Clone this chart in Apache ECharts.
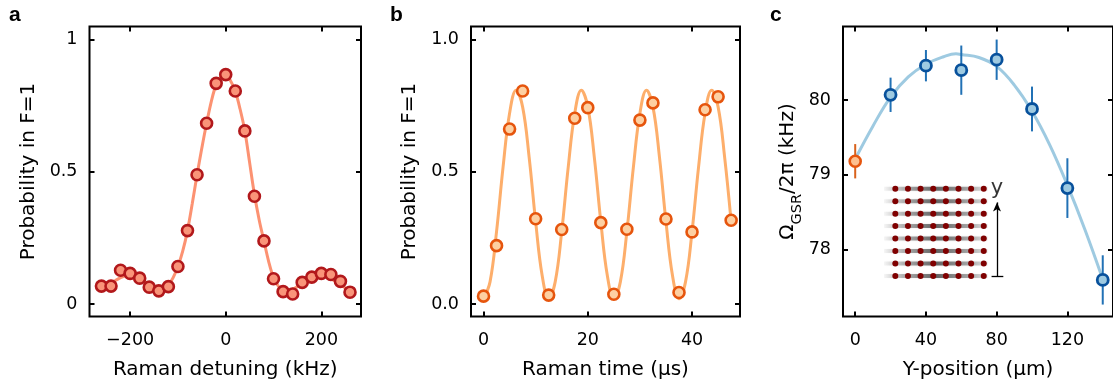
<!DOCTYPE html>
<html>
<head>
<meta charset="utf-8">
<script src="https://cdn.jsdelivr.net/npm/echarts@6/dist/echarts.min.js"></script>
<style>
html,body{margin:0;padding:0;background:#fff;}
#chart{width:1113px;height:387px;}
</style>
</head>
<body>
<div id="chart"></div>
<script>
// ---------- Panel a: Raman spectroscopy ----------
const aX = [-260,-240,-220,-200,-180,-160,-140,-120,-100,-80,-60,-40,-20,0,20,40,60,80,100,120,140,160,180,200,220,240,260];
const aY = [0.068,0.068,0.128,0.116,0.098,0.064,0.050,0.066,0.142,0.278,0.489,0.684,0.835,0.868,0.806,0.655,0.408,0.239,0.096,0.047,0.038,0.082,0.102,0.116,0.112,0.086,0.045];
const aFitX = [-260,-250,-240,-230,-220,-210,-200,-190,-180,-170,-160,-150,-140,-130,-120,-110,-100,-90,-80,-70,-60,-50,-40,-30,-20,-10,0,10,20,30,40,50,60,70,80,90,100,110,120,130,140,150,160,170,180,190,200,210,220,230,240,250,260];
const aFitY = [0.068,0.072,0.080,0.090,0.100,0.107,0.109,0.105,0.096,0.084,0.071,0.060,0.055,0.058,0.072,0.100,0.142,0.200,0.278,0.380,0.489,0.590,0.684,0.768,0.830,0.860,0.866,0.845,0.805,0.738,0.655,0.535,0.415,0.318,0.238,0.160,0.100,0.068,0.055,0.052,0.056,0.066,0.079,0.092,0.102,0.108,0.108,0.104,0.096,0.085,0.073,0.061,0.050];
const aXTicks = [-200, 0, 200];
const aXTickLabels = ['\u2212200', '0', '200'];
const aYTicks = [0, 0.5, 1];
const aYTickLabels = ['0', '0.5', '1'];

// ---------- Panel b: Rabi oscillation ----------
const bX = [0,2.5,5,7.5,10,12.5,15,17.5,20,22.5,25,27.5,30,32.5,35,37.5,40,42.5,45,47.5];
const bY = [0.030,0.221,0.662,0.806,0.323,0.034,0.282,0.703,0.743,0.308,0.037,0.283,0.696,0.761,0.322,0.044,0.273,0.735,0.784,0.317];
const bFitX = [0,1.25,2.5,3.75,5,6.25,7.5,8.75,10,11.25,12.5,13.75,15,16.25,17.5,18.75,20,21.25,22.5,23.75,25,26.25,27.5,28.75,30,31.25,32.5,33.75,35,36.25,37.5,38.75,40,41.25,42.5,43.75,45,46.25,47.5];
const bFitY = [0.020,0.084,0.274,0.518,0.722,0.809,0.746,0.556,0.312,0.108,0.020,0.084,0.274,0.518,0.722,0.809,0.746,0.556,0.312,0.108,0.020,0.084,0.274,0.518,0.722,0.809,0.746,0.556,0.312,0.108,0.020,0.084,0.274,0.518,0.722,0.809,0.746,0.556,0.312];
const bXTicks = [0, 20, 40];
const bXTickLabels = ['0', '20', '40'];
const bYTicks = [0, 0.5, 1];
const bYTickLabels = ['0.0', '0.5', '1.0'];

// ---------- Panel c: Rabi frequency vs position ----------
const cRefX = [0];
const cRefY = [79.18];
const cRefErr = [0.23];
const cX = [20,40,60,80,100,120,140];
const cY = [80.07,80.46,80.40,80.54,79.88,78.82,77.59];
const cErr = [0.23,0.21,0.33,0.27,0.30,0.40,0.33];
const cFitX = [0,10,20,30,40,50,57,60,70,80,90,100,110,120,130,140];
const cFitY = [79.21,79.65,80.04,80.31,80.48,80.58,80.62,80.61,80.57,80.45,80.20,79.85,79.40,78.86,78.26,77.60];
const cXTicks = [0, 40, 80, 120];
const cXTickLabels = ['0', '40', '80', '120'];
const cYTicks = [78, 79, 80];
const cYTickLabels = ['78', '79', '80'];

// ---------- Inset: atom array schematic ----------
const insetCols = [0,1,2,3,4,5,6,7];
const insetRows = [0,1,2,3,4,5,6,7];
const insetArrowX = 8.05;
const insetArrowFrom = 0;
const insetArrowTo = 5.9;
const insetBarFrom = 7.62;
const insetBarTo = 8.55;
const insetLabelPos = [8.05, 7.05];

const FONT = 'DejaVu Sans';
const TICKFS = 17.5;
const NAMEFS = 20;

function mkLabel(ticks, labels) {
  return function (v) {
    for (let i = 0; i < ticks.length; i++) if (Math.abs(ticks[i] - v) < 1e-9) return labels[i];
    return '';
  };
}

const tickStyle = { color: '#000', width: 2 };

function mainX(gi, min, max, ticks, labels, name, nameGap) {
  return {
    type: 'value', gridIndex: gi, min: min, max: max, position: 'bottom',
    name: name, nameLocation: 'middle', nameGap: nameGap,
    nameTextStyle: { fontFamily: FONT, fontSize: NAMEFS, color: '#000' },
    axisLine: { show: false, onZero: false },
    axisTick: { show: true, inside: true, length: 5, customValues: ticks, lineStyle: tickStyle },
    axisLabel: { show: true, customValues: ticks, formatter: mkLabel(ticks, labels), margin: 15, fontFamily: FONT, fontSize: TICKFS, color: '#000' },
    splitLine: { show: false }
  };
}
function mirrorX(gi, min, max, ticks) {
  return {
    type: 'value', gridIndex: gi, min: min, max: max, position: 'top',
    axisLine: { show: false, onZero: false },
    axisTick: { show: true, inside: true, length: 5, customValues: ticks, lineStyle: tickStyle },
    axisLabel: { show: false }, splitLine: { show: false }
  };
}
function mainY(gi, min, max, ticks, labels, name, nameGap, rich) {
  const o = {
    type: 'value', gridIndex: gi, min: min, max: max, position: 'left',
    name: name, nameLocation: 'middle', nameGap: nameGap, nameRotate: 90,
    nameTextStyle: { fontFamily: FONT, fontSize: NAMEFS, color: '#000' },
    axisLine: { show: false, onZero: false },
    axisTick: { show: true, inside: true, length: 5, customValues: ticks, lineStyle: tickStyle },
    axisLabel: { show: true, customValues: ticks, formatter: mkLabel(ticks, labels), margin: 12, fontFamily: FONT, fontSize: TICKFS, color: '#000' },
    splitLine: { show: false }
  };
  if (rich) o.nameTextStyle.rich = rich;
  return o;
}
function mirrorY(gi, min, max, ticks) {
  return {
    type: 'value', gridIndex: gi, min: min, max: max, position: 'right',
    axisLine: { show: false, onZero: false },
    axisTick: { show: true, inside: true, length: 5, customValues: ticks, lineStyle: tickStyle },
    axisLabel: { show: false }, splitLine: { show: false }
  };
}

const gridStyle = { show: true, borderColor: '#000', borderWidth: 2, backgroundColor: 'transparent' };

const A_X = [-285, 283], A_Y = [-0.047, 1.050];
const B_X = [-2.4, 49.2], B_Y = [-0.047, 1.050];
const C_X = [-6.9, 145.8], C_Y = [77.10, 80.985];

function pairs(xs, ys) { return xs.map((x, i) => [x, ys[i]]); }
function errData(xs, ys, es) { return xs.map((x, i) => [x, ys[i], es[i]]); }

function errSeries(xi, yi, data, color) {
  return {
    type: 'custom', xAxisIndex: xi, yAxisIndex: yi, z: 3, silent: true,
    renderItem: function (params, api) {
      const x = api.value(0), y = api.value(1), e = api.value(2);
      const p1 = api.coord([x, y - e]);
      const p2 = api.coord([x, y + e]);
      return { type: 'line', shape: { x1: p1[0], y1: p1[1], x2: p2[0], y2: p2[1] }, style: { stroke: color, lineWidth: 2 } };
    },
    data: data
  };
}

const insetDots = [];
insetRows.forEach(r => insetCols.forEach(c => insetDots.push([c, r])));
const insetLineSeries = insetRows.map(r => ({
  type: 'line', xAxisIndex: 6, yAxisIndex: 6, z: 1, silent: true, symbol: 'none',
  data: [[insetCols[0] - 0.9, r], [insetCols[insetCols.length - 1] + 0.3, r]],
  lineStyle: {
    width: 4,
    color: new echarts.graphic.LinearGradient(0, 0, 1, 0, [
      { offset: 0, color: 'rgba(0,0,0,0)' },
      { offset: 0.2, color: 'rgba(0,0,0,0.25)' },
      { offset: 0.5, color: 'rgba(0,0,0,0.55)' },
      { offset: 0.8, color: 'rgba(0,0,0,0.3)' },
      { offset: 1, color: 'rgba(0,0,0,0.05)' }
    ]),
    shadowBlur: 2, shadowColor: 'rgba(0,0,0,0.3)'
  }
}));

const titleStyle = { fontFamily: 'Liberation Sans', fontWeight: 'bold', fontSize: 21, color: '#000' };

const chart = echarts.init(document.getElementById('chart'), null, { renderer: 'canvas' });
chart.setOption({
  animation: false,
  backgroundColor: '#fff',
  title: [
    { text: 'a', left: 9, top: 5, padding: 0, textStyle: titleStyle },
    { text: 'b', left: 390, top: 5, padding: 0, textStyle: titleStyle },
    { text: 'c', left: 770, top: 5, padding: 0, textStyle: titleStyle }
  ],
  grid: [
    Object.assign({ left: 89.5, top: 26.5, width: 271.5, height: 290 }, gridStyle),
    Object.assign({ left: 471, top: 26.5, width: 269, height: 290 }, gridStyle),
    Object.assign({ left: 843, top: 26.5, width: 271.5, height: 290 }, gridStyle),
    { show: false, left: 882.7, top: 176.2, width: 126.3, height: 112.3 }
  ],
  xAxis: [
    mainX(0, A_X[0], A_X[1], aXTicks, aXTickLabels, 'Raman detuning (kHz)', 43),
    mirrorX(0, A_X[0], A_X[1], aXTicks),
    mainX(1, B_X[0], B_X[1], bXTicks, bXTickLabels, 'Raman time (\u03bcs)', 43),
    mirrorX(1, B_X[0], B_X[1], bXTicks),
    mainX(2, C_X[0], C_X[1], cXTicks, cXTickLabels, 'Y-position (\u03bcm)', 43),
    mirrorX(2, C_X[0], C_X[1], cXTicks),
    { type: 'value', gridIndex: 3, min: -1, max: 9, show: false }
  ],
  yAxis: [
    mainY(0, A_Y[0], A_Y[1], aYTicks, aYTickLabels, 'Probability in F=1', 51),
    mirrorY(0, A_Y[0], A_Y[1], aYTicks),
    mainY(1, B_Y[0], B_Y[1], bYTicks, bYTickLabels, 'Probability in F=1', 51),
    mirrorY(1, B_Y[0], B_Y[1], bYTicks),
    mainY(2, C_Y[0], C_Y[1], cYTicks, cYTickLabels, '{m|\u03a9}{s|GSR}{m|/2\u03c0 (kHz)}', 38, {
      m: { fontFamily: FONT, fontSize: NAMEFS, color: '#000', lineHeight: 27, verticalAlign: 'top' },
      s: { fontFamily: FONT, fontSize: 14.5, color: '#000', lineHeight: 27, verticalAlign: 'bottom' }
    }),
    mirrorY(2, C_Y[0], C_Y[1], cYTicks),
    { type: 'value', gridIndex: 3, min: -1, max: 8, show: false }
  ],
  series: [
    // panel a
    { type: 'line', xAxisIndex: 0, yAxisIndex: 0, z: 2, silent: true, symbol: 'none', smooth: 0.35,
      data: pairs(aFitX, aFitY), lineStyle: { color: '#fc9272', width: 3 } },
    { type: 'scatter', xAxisIndex: 0, yAxisIndex: 0, z: 4, silent: true, symbol: 'circle', symbolSize: 11,
      data: pairs(aX, aY), itemStyle: { color: '#f99479', borderColor: '#b2181b', borderWidth: 2.6, opacity: 1 } },
    // panel b
    { type: 'line', xAxisIndex: 2, yAxisIndex: 2, z: 2, silent: true, symbol: 'none', smooth: 0.4,
      data: pairs(bFitX, bFitY), lineStyle: { color: '#fdae6b', width: 3 } },
    { type: 'scatter', xAxisIndex: 2, yAxisIndex: 2, z: 4, silent: true, symbol: 'circle', symbolSize: 11,
      data: pairs(bX, bY), itemStyle: { color: '#fdd0a2', borderColor: '#e6550d', borderWidth: 2.6, opacity: 1 } },
    // panel c
    { type: 'line', xAxisIndex: 4, yAxisIndex: 4, z: 2, silent: true, symbol: 'none', smooth: 0.4,
      data: pairs(cFitX, cFitY), lineStyle: { color: '#9ecae1', width: 3 } },
    errSeries(4, 4, errData(cX, cY, cErr), '#2171b5'),
    errSeries(4, 4, errData(cRefX, cRefY, cRefErr), '#d9621c'),
    { type: 'scatter', xAxisIndex: 4, yAxisIndex: 4, z: 4, silent: true, symbol: 'circle', symbolSize: 11,
      data: pairs(cX, cY), itemStyle: { color: '#9ecae1', borderColor: '#08519c', borderWidth: 2.8, opacity: 1 } },
    { type: 'scatter', xAxisIndex: 4, yAxisIndex: 4, z: 4, silent: true, symbol: 'circle', symbolSize: 11,
      data: pairs(cRefX, cRefY), itemStyle: { color: '#fdc08f', borderColor: '#e6550d', borderWidth: 2.6, opacity: 1 } },
    // inset
    ...insetLineSeries,
    { type: 'scatter', xAxisIndex: 6, yAxisIndex: 6, z: 5, silent: true, symbol: 'circle', symbolSize: 6,
      data: insetDots, itemStyle: { color: '#7f0000', opacity: 1 },
      markLine: {
        silent: true, animation: false,
        symbol: ['none', 'none'],
        lineStyle: { color: '#000', width: 1.3, type: 'solid' },
        label: { show: false },
        emphasis: { disabled: true },
        data: [
          [{ coord: [insetArrowX, insetArrowFrom], symbol: 'none' }, { coord: [insetArrowX, insetArrowTo], symbol: 'arrow', symbolSize: [6, 9] }],
          [{ coord: [insetBarFrom, insetArrowFrom], symbol: 'none' }, { coord: [insetBarTo, insetArrowFrom], symbol: 'none' }]
        ]
      }
    },
    { type: 'scatter', xAxisIndex: 6, yAxisIndex: 6, z: 5, silent: true, symbolSize: 0,
      data: [insetLabelPos],
      label: { show: true, position: 'inside', formatter: 'y', fontFamily: FONT, fontSize: 21, color: '#000' } }
  ]
});
</script>
</body>
</html>
